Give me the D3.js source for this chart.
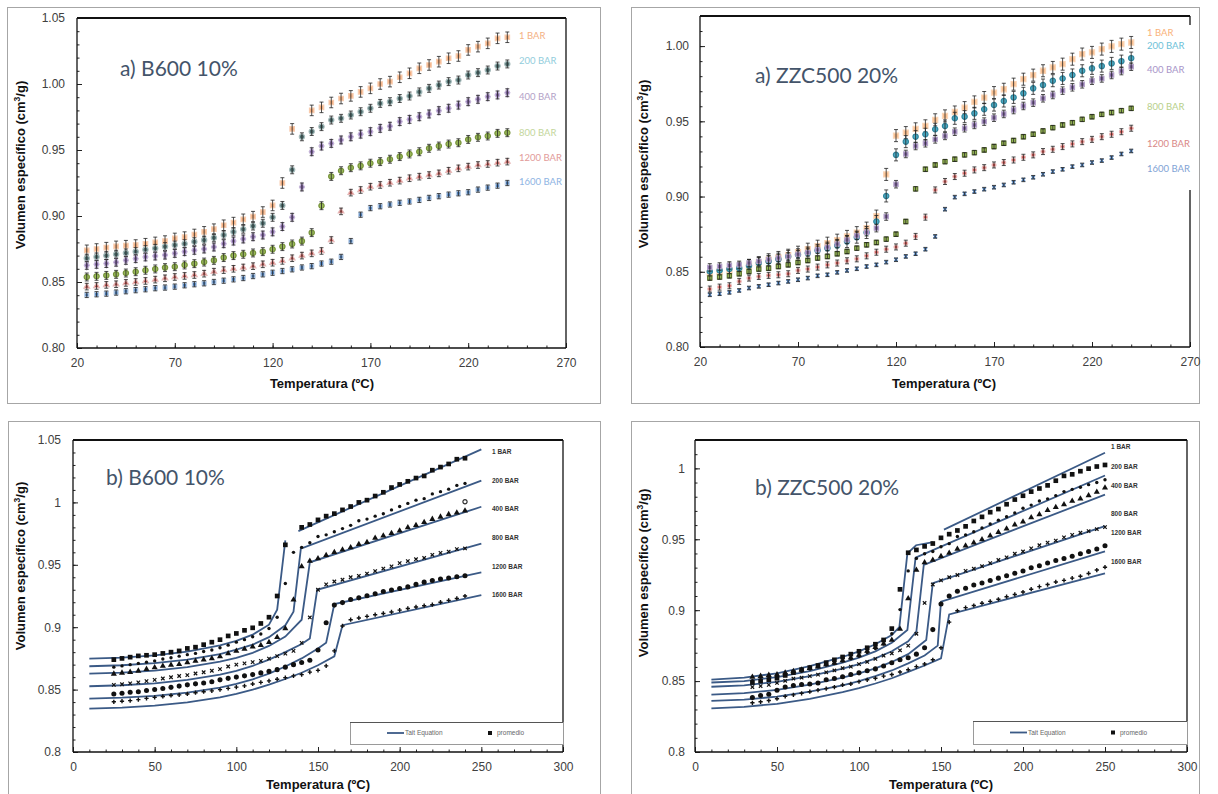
<!DOCTYPE html>
<html>
<head>
<meta charset="utf-8">
<script src="https://cdnjs.cloudflare.com/ajax/libs/d3/7.8.5/d3.min.js"></script>
<style>
body { margin: 0; background: #fff; }
svg { display: block; }
</style>
</head>
<body>
<div id="chart"></div>
<script>
// ---- data ----
var pressures = ["1 BAR", "200 BAR", "400 BAR", "800 BAR", "1200 BAR", "1600 BAR"];

// temperatures of the measured points (ºC)
var tempA = [25,30,35,40,45,50,55,60,65,70,75,80,85,90,95,100,105,110,115,120,125,130,135,140,145,150,155,160,165,170,175,180,185,190,195,200,205,210,215,220,225,230,235,240];
var tempB2 = [35,40,45,50,55,60,65,70,75,80,85,90,95,100,105,110,115,120,125,130,135,140,145,150,155,160,165,170,175,180,185,190,195,200,205,210,215,220,225,230,235,240,245,250];

// B600 10%
var b600_1bar = [.874,.875,.876,.877,.8775,.878,.879,.880,.881,.883,.884,.886,.888,.890,.893,.895,.8975,.8995,.903,.908,.925,.966,null,.980,.9823,.986,.989,.991,.994,.9967,1.000,1.0018,1.0051,1.0081,1.0119,1.0144,1.0169,1.0195,1.0212,1.0258,1.0283,1.0308,1.0346,1.0354];
var b600_200bar = [.868,.869,.870,.871,.872,.873,.8745,.8755,.8768,.878,.879,.8805,.8817,.8835,.8856,.888,.890,.8924,.8945,.899,.908,.935,.960,.964,.9677,.9727,.974,.9765,.979,.9816,.9853,.9866,.989,.9909,.994,.9967,.9992,1.0018,1.003,1.0068,1.0086,1.0106,1.0136,1.0152];
var b600_400bar = [.8626,.8634,.864,.865,.8664,.8677,.869,.8697,.8704,.8717,.873,.874,.875,.8765,.879,.881,.8826,.8843,.8856,.888,.892,.899,.922,.9487,.953,.955,.9576,.960,.962,.9639,.9664,.968,.9715,.9732,.9752,.9773,.9798,.9816,.984,.9866,.9884,.9904,.9917,.9934];
var b600_800bar = [.8538,.8543,.855,.8558,.8568,.8578,.8589,.8599,.8609,.8616,.8629,.8639,.8651,.8664,.8685,.870,.871,.872,.873,.8748,.8768,.8788,.881,.8874,.9078,.930,.9343,.9366,.938,.940,.9412,.943,.945,.947,.9487,.9513,.953,.9545,.9555,.958,.9596,.9606,.9626,.9631];
var b600_1200bar = [.8465,.847,.8478,.8483,.8493,.850,.8508,.8518,.8528,.8538,.8546,.8553,.8563,.8578,.859,.860,.861,.862,.8634,.8646,.866,.868,.870,.8717,.8735,.8818,.9035,.9177,.9197,.9222,.9235,.9252,.9268,.9286,.9298,.931,.9323,.9343,.9361,.9374,.9386,.9394,.9404,.9412];
var b600_1600bar = [.8402,.8407,.8412,.842,.843,.8438,.8445,.8453,.8458,.8465,.8475,.8483,.849,.850,.851,.852,.853,.8545,.8558,.857,.8583,.8596,.861,.862,.864,.8654,.869,.881,.901,.906,.9074,.9087,.910,.911,.9122,.9137,.915,.9162,.9172,.918,.920,.9215,.923,.925];
var b600_outlier = [[240, 1.0005]];

// ZZC500 20%
var zzc_1bar = [.849,.850,.851,.852,.854,.856,.858,.8595,.861,.863,.865,.867,.869,.871,.8735,.876,.879,.887,.9147,.9405,.9425,.945,.947,.951,.9536,.9562,.9591,.9629,.9658,.9691,.9713,.9747,.978,.9807,.9836,.9858,.988,.9913,.9947,.9958,.998,.9998,1.0013,1.0024];
var zzc_200bar = [.8502,.8509,.8518,.8524,.854,.8558,.8569,.8584,.8602,.8613,.8624,.8642,.8657,.8675,.8701,.873,.8761,.8834,.9004,.9277,.9365,.9398,.9414,.9447,.9469,.952,.9531,.9553,.958,.9608,.9635,.9659,.9686,.9719,.9741,.977,.9785,.9808,.9836,.9852,.9867,.9885,.990,.992];
var zzc_400bar = [.8529,.8535,.8542,.8546,.8558,.8569,.858,.8591,.8602,.8617,.8628,.8646,.8664,.8684,.8712,.8739,.8763,.879,.8867,.9082,.9283,.9336,.9354,.938,.9403,.9431,.9454,.9476,.9498,.9524,.9549,.9575,.9602,.9624,.9653,.9675,.9704,.9726,.9746,.977,.9785,.9808,.9834,.9863];
var zzc_800bar = [.8458,.8465,.8473,.8487,.8502,.8518,.8524,.8535,.8546,.8562,.8575,.8591,.8602,.862,.8635,.8657,.8679,.8695,.8717,.875,.8834,.9051,.9181,.921,.9232,.9248,.9277,.9292,.931,.9332,.9354,.9372,.9398,.9414,.9436,.9458,.9476,.9491,.9513,.9531,.9546,.9558,.9571,.9586];
var zzc_1200bar = [.8385,.8398,.8407,.8436,.8458,.8469,.8476,.848,.8487,.8509,.8518,.8531,.8546,.8558,.8573,.8586,.8606,.863,.865,.8665,.869,.8735,.8863,.9044,.910,.9133,.9155,.9177,.9192,.921,.9226,.9243,.9261,.9277,.9299,.9314,.9332,.935,.9365,.938,.9398,.9414,.9431,.9454];
var zzc_1600bar = [.8347,.8354,.8363,.8376,.8392,.8403,.8414,.8425,.8436,.8447,.8458,.8473,.848,.8496,.8509,.852,.8535,.8546,.8564,.858,.8602,.862,.865,.8735,.8916,.8996,.9018,.9033,.9049,.9062,.9077,.9095,.9111,.9128,.9148,.9166,.9181,.9199,.921,.9226,.9239,.9259,.9283,.9303];

// error bar half-heights, per pressure
var errB600 = [0.004, 0.003, 0.003, 0.003, 0.0025, 0.002];
var errZZC = [0.004, 0.004, 0.0025, 0.0015, 0.002, 0.0012];

// Tait equation curves [T, v]; null = break in the line
var taitB600_1 = [[10,.8749],[30,.8757],[50,.8775],[70,.8805],[90,.8855],[100,.889],[110,.894],[120,.902],[125,.914],[130,.9695],null,[138,.977],[250,1.0425]];
var taitB600_200 = [[10,.8687],[30,.8695],[50,.8712],[70,.874],[90,.8785],[100,.882],[110,.886],[120,.892],[130,.9015],[135,.9124],[139.5,.963],[250,1.0174]];
var taitB600_400 = [[10,.8628],[30,.8636],[50,.8652],[70,.868],[90,.8725],[100,.8755],[110,.8795],[120,.885],[130,.8925],[140,.906],[145,.952],[250,.9965]];
var taitB600_800 = [[10,.8527],[30,.8535],[50,.855],[70,.8578],[90,.862],[100,.865],[110,.869],[120,.874],[130,.880],[140,.8865],[145,.891],[149.5,.930],[250,.967]];
var taitB600_1200 = [[10,.8428],[30,.8436],[50,.845],[70,.8476],[90,.8515],[100,.8545],[110,.8582],[120,.8628],[130,.8685],[140,.875],[150,.883],[155,.8875],[160,.9185],[250,.9439]];
var taitB600_1600 = [[10,.8348],[30,.8356],[50,.8372],[70,.8398],[90,.8438],[100,.8465],[110,.850],[120,.854],[130,.8585],[140,.8635],[150,.8695],[160,.8767],[165,.9016],[250,.9257]];

var taitZZC_1 = [[10,.851],[30,.8525],[50,.8555],[70,.8605],[90,.867],[100,.871],[110,.876],[120,.8825],[124.6,.888],[129.5,.940],[134.8,.9458],[145.3,.948],null,[151.8,.9568],[250,1.011]];
var taitZZC_200 = [[10,.849],[30,.850],[50,.8528],[70,.857],[90,.863],[100,.8665],[110,.871],[120,.877],[129.5,.886],[134.5,.937],[250,.995]];
var taitZZC_400 = [[10,.846],[30,.847],[50,.8495],[70,.8535],[90,.8588],[100,.862],[110,.866],[120,.871],[130,.878],[135,.885],[139.5,.932],[250,.9815]];
var taitZZC_800 = [[10,.8405],[30,.8415],[50,.8438],[70,.8475],[90,.8525],[100,.8555],[110,.859],[120,.8635],[130,.869],[141,.879],[145,.919],[250,.9592]];
var taitZZC_1200 = [[10,.836],[30,.837],[50,.839],[70,.8425],[90,.847],[100,.850],[110,.8535],[120,.8575],[130,.8625],[140,.868],[148,.875],[150,.906],[250,.9415]];
var taitZZC_1600 = [[10,.8308],[30,.8318],[50,.834],[70,.8375],[90,.8422],[100,.845],[110,.8483],[120,.852],[130,.8565],[140,.861],[150,.866],[155,.897],[250,.926]];

var ticksA_x = [20, 70, 120, 170, 220, 270];
var ticksB_x = [0, 50, 100, 150, 200, 250, 300];
var ticksB600_y = [0.80, 0.85, 0.90, 0.95, 1.00, 1.05];
var ticksZZC_y = [0.80, 0.85, 0.90, 0.95, 1.00];

var b600 = [b600_1bar, b600_200bar, b600_400bar, b600_800bar, b600_1200bar, b600_1600bar];
var zzc = [zzc_1bar, zzc_200bar, zzc_400bar, zzc_800bar, zzc_1200bar, zzc_1600bar];
var taitB600 = [taitB600_1, taitB600_200, taitB600_400, taitB600_800, taitB600_1200, taitB600_1600];
var taitZZC = [taitZZC_1, taitZZC_200, taitZZC_400, taitZZC_800, taitZZC_1200, taitZZC_1600];

// ---- drawing ----
var W = 1218, H = 794;
var svg = d3.select("#chart").append("svg").attr("width", W).attr("height", H);
svg.append("rect").attr("width", W).attr("height", H).attr("fill", "#fff");

var ARIAL = "'Liberation Sans', Arial, sans-serif";
var CALIBRI = "Lato, 'Open Sans', sans-serif";

function symPath(type, size) {
	if (type == "x") {
		var a = Math.sqrt(size) / 2;
		return "M" + (-a) + "," + (-a) + "L" + a + "," + a + "M" + (-a) + "," + a + "L" + a + "," + (-a);
	}
	var types = {square: d3.symbolSquare, circle: d3.symbolCircle, diamond: d3.symbolDiamond,
		triangle: d3.symbolTriangle, plus: d3.symbolCross};
	return d3.symbol().type(types[type]).size(size)();
}

function drawPanel(p) {
	var g = svg.append("g");
	g.append("rect")
		.attr("x", p.box[0] + 0.5).attr("y", p.box[1] + 0.5)
		.attr("width", p.box[2] - p.box[0]).attr("height", p.box[3] - p.box[1])
		.attr("fill", "none").attr("stroke", "#a6a6a6");

	var x = d3.scaleLinear().domain(p.xd).range([p.left, p.right]);
	var y = d3.scaleLinear().domain(p.yd).range([p.bottom, p.top]);

	var yMinor = d3.range(Math.round((p.yd[1] - p.yd[0]) / 0.01) + 1).map(function(i) { return p.yd[0] + i * 0.01; });
	var xMinor = d3.range(p.xd[0], p.xd[1] + 1, 10);

	function styleAxis(a) {
		a.select(".domain").remove();
		a.selectAll("line").attr("stroke", "#222");
		a.selectAll("text").attr("font-family", ARIAL).attr("font-size", 12).attr("fill", "#404040");
	}
	g.append("g").attr("transform", "translate(" + p.left + ",0)")
		.call(d3.axisLeft(y).tickValues(yMinor).tickSize(-2.5).tickFormat("")).call(styleAxis);
	g.append("g").attr("transform", "translate(" + p.left + ",0)")
		.call(d3.axisLeft(y).tickValues(p.yt).tickSize(-5).tickPadding(p.ypad).tickFormat(d3.format(p.yfmt))).call(styleAxis);
	g.append("g").attr("transform", "translate(0," + p.bottom + ")")
		.call(d3.axisBottom(x).tickValues(xMinor).tickSize(-2.5).tickFormat("")).call(styleAxis);
	g.append("g").attr("transform", "translate(0," + p.bottom + ")")
		.call(d3.axisBottom(x).tickValues(p.xt).tickSize(-5).tickPadding(10)).call(styleAxis);

	// frame
	var fr = g.append("g").attr("stroke", "#111").attr("fill", "none");
	fr.append("line").attr("x1", p.left).attr("x2", p.left).attr("y1", p.top).attr("y2", p.bottom).attr("stroke-width", 1.3);
	fr.append("line").attr("x1", p.left).attr("x2", p.right).attr("y1", p.bottom).attr("y2", p.bottom).attr("stroke-width", 1.3);
	fr.append("line").attr("x1", p.left).attr("x2", p.right).attr("y1", p.top).attr("y2", p.top).attr("stroke-width", 2);
	if (p.rightGap) {
		fr.append("line").attr("x1", p.right).attr("x2", p.right).attr("y1", p.top).attr("y2", p.rightGap[0]).attr("stroke-width", 1.3);
		fr.append("line").attr("x1", p.right).attr("x2", p.right).attr("y1", p.rightGap[1]).attr("y2", p.bottom).attr("stroke-width", 1.3);
	} else {
		fr.append("line").attr("x1", p.right).attr("x2", p.right).attr("y1", p.top).attr("y2", p.bottom).attr("stroke-width", 1.3);
	}

	// axis titles
	var yl = g.append("text")
		.attr("transform", "translate(" + p.ylab[0] + "," + p.ylab[1] + ") rotate(-90)")
		.attr("text-anchor", "middle").attr("font-family", ARIAL).attr("font-weight", "bold")
		.attr("font-size", 13).attr("fill", "#111");
	yl.append("tspan").text("Volumen específico (cm");
	yl.append("tspan").attr("font-size", 8.5).attr("dy", -5).text("3");
	yl.append("tspan").attr("dy", 5).text("/g)");
	g.append("text").attr("x", p.xlab[0]).attr("y", p.xlab[1])
		.attr("text-anchor", "middle").attr("font-family", ARIAL).attr("font-weight", "bold")
		.attr("font-size", 13).attr("fill", "#111").text("Temperatura (ºC)");

	g.append("text").attr("x", p.title[0]).attr("y", p.title[1])
		.attr("font-family", CALIBRI).attr("font-size", 21).attr("fill", "#44546A").text(p.titleText);

	return {g: g, x: x, y: y};
}

function drawMeasured(p, ax, temps, sets, errs, styles, labelColors) {
	sets.forEach(function(vals, k) {
		var st = styles[k];
		var pts = temps.map(function(t, i) { return {t: t, v: vals[i]}; }).filter(function(d) { return d.v != null; });
		var s = ax.g.append("g");
		s.selectAll("path.m").data(pts).enter().append("path")
			.attr("class", "m")
			.attr("transform", function(d) { return "translate(" + ax.x(d.t) + "," + ax.y(d.v) + ")"; })
			.attr("d", symPath(st.sym, st.size))
			.attr("fill", st.sym == "x" ? "none" : st.fill)
			.attr("stroke", st.stroke).attr("stroke-width", st.sym == "x" ? 1.4 : 1.2);
		var eb = s.append("g").attr("stroke", "#222").attr("stroke-width", 0.8);
		pts.forEach(function(d) {
			var cx = ax.x(d.t), y1 = ax.y(d.v - errs[k]), y2 = ax.y(d.v + errs[k]);
			eb.append("line").attr("x1", cx).attr("x2", cx).attr("y1", y1).attr("y2", y2);
			eb.append("line").attr("x1", cx - 2).attr("x2", cx + 2).attr("y1", y1).attr("y2", y1);
			eb.append("line").attr("x1", cx - 2).attr("x2", cx + 2).attr("y1", y2).attr("y2", y2);
		});
		ax.g.append("text").attr("x", p.lab[0]).attr("y", p.lab[1][k]).attr("dy", "0.35em")
			.attr("font-family", CALIBRI).attr("font-size", 9.5).attr("fill", labelColors[k]).text(pressures[k]);
	});
}

var blackMarks = [
	{sym: "square", size: 22}, {sym: "circle", size: 9}, {sym: "triangle", size: 16},
	{sym: "x", size: 12}, {sym: "circle", size: 20}, {sym: "plus", size: 10}
];

function drawTait(p, ax, temps, sets, curves) {
	var line = d3.line().defined(function(d) { return d != null; })
		.x(function(d) { return ax.x(d[0]); }).y(function(d) { return ax.y(d[1]); });
	curves.forEach(function(c) {
		ax.g.append("path").attr("d", line(c)).attr("fill", "none")
			.attr("stroke", "#3b5a86").attr("stroke-width", 1.8);
	});
	sets.forEach(function(vals, k) {
		var st = blackMarks[k];
		var pts = temps.map(function(t, i) { return {t: t, v: vals[i]}; }).filter(function(d) { return d.v != null; });
		ax.g.append("g").selectAll("path").data(pts).enter().append("path")
			.attr("transform", function(d) { return "translate(" + ax.x(d.t) + "," + ax.y(d.v) + ")"; })
			.attr("d", symPath(st.sym, st.size))
			.attr("fill", st.sym == "x" ? "none" : "#111")
			.attr("stroke", st.sym == "x" ? "#111" : "none").attr("stroke-width", 1.2);
		ax.g.append("text").attr("x", p.lab[0]).attr("y", p.lab[1][k]).attr("dy", "0.35em")
			.attr("font-family", ARIAL).attr("font-weight", "bold").attr("font-size", 6.5)
			.attr("fill", "#333").text(pressures[k]);
	});
	// legend
	var L = p.legend;
	var lg = ax.g.append("g");
	lg.append("rect").attr("x", L[0] + 0.5).attr("y", L[1] + 0.5).attr("width", L[2] - L[0]).attr("height", L[3] - L[1])
		.attr("fill", "#fff").attr("stroke", "#9a9a9a");
	lg.append("line").attr("x1", L[0]).attr("x2", L[2]).attr("y1", L[1] + 0.5).attr("y2", L[1] + 0.5).attr("stroke", "#555");
	var my = (L[1] + L[3]) / 2;
	lg.append("line").attr("x1", L[0] + 37).attr("x2", L[0] + 54).attr("y1", my).attr("y2", my)
		.attr("stroke", "#3b5a86").attr("stroke-width", 1.8);
	lg.append("text").attr("x", L[0] + 55).attr("y", my).attr("dy", "0.35em").attr("font-family", ARIAL)
		.attr("font-size", 6.5).attr("fill", "#666").text("Tait Equation");
	lg.append("path").attr("transform", "translate(" + (L[0] + 140) + "," + my + ")")
		.attr("d", symPath("square", 16)).attr("fill", "#111");
	lg.append("text").attr("x", L[0] + 147).attr("y", my).attr("dy", "0.35em").attr("font-family", ARIAL)
		.attr("font-size", 6.5).attr("fill", "#666").text("promedio");
}

var pA1 = {box: [7, 7, 600, 403], left: 77, right: 566, top: 18, bottom: 348,
	xd: [20, 270], yd: [0.80, 1.05], xt: ticksA_x, yt: ticksB600_y, yfmt: ".2f", ypad: 12,
	ylab: [25, 165], xlab: [322, 388], title: [120, 76], titleText: "a) B600 10%",
	lab: [519, [36, 61, 97, 133, 158, 182]]};
var pA2 = {box: [631, 7, 1199, 403], left: 700, right: 1190, top: 16, bottom: 347,
	xd: [20, 270], yd: [0.80, 1.02], xt: ticksA_x, yt: ticksZZC_y, yfmt: ".2f", ypad: 11,
	ylab: [648, 164], xlab: [944, 388], title: [755, 83], titleText: "a) ZZC500 20%",
	lab: [1147, [33, 46, 70, 107, 144, 169]], rightGap: [25, 190]};
var pB1 = {box: [8, 421, 600, 800], left: 73, right: 563, top: 440, bottom: 752,
	xd: [0, 300], yd: [0.80, 1.05], xt: ticksB_x, yt: ticksB600_y, yfmt: "~g", ypad: 12,
	ylab: [25, 566], xlab: [318, 789], title: [106, 485], titleText: "b) B600 10%",
	lab: [492, [452, 481, 509, 538, 567, 595]], legend: [350, 722, 563, 744]};
var pB2 = {box: [631, 421, 1199, 800], left: 695, right: 1187, top: 440, bottom: 752,
	xd: [0, 300], yd: [0.80, 1.02], xt: ticksB_x, yt: ticksZZC_y, yfmt: "~g", ypad: 10,
	ylab: [648, 573], xlab: [941, 789], title: [755, 495], titleText: "b) ZZC500 20%",
	lab: [1111, [447, 467, 486, 514, 533, 562]], legend: [973, 721, 1187, 744]};

var stylesA1 = [
	{sym: "square", size: 20, fill: "#F4B183", stroke: "#F8CBAD"},
	{sym: "circle", size: 22, fill: "#4E6E6E", stroke: "#A9BDBD"},
	{sym: "diamond", size: 22, fill: "#8064A2", stroke: "#C4B5D7"},
	{sym: "circle", size: 22, fill: "#9BBB59", stroke: "#77933C"},
	{sym: "triangle", size: 14, fill: "#C0504D", stroke: "#E6B9B8"},
	{sym: "square", size: 16, fill: "#4F81BD", stroke: "#B9CDE5"}
];
var stylesA2 = [
	{sym: "square", size: 26, fill: "#FAC090", stroke: "#FCD5B5"},
	{sym: "circle", size: 22, fill: "#4BACC6", stroke: "#31859C"},
	{sym: "square", size: 18, fill: "#8064A2", stroke: "#B3A2C7"},
	{sym: "square", size: 18, fill: "#9BBB59", stroke: "#5F7530"},
	{sym: "circle", size: 12, fill: "#D9534F", stroke: "#E6B9B8"},
	{sym: "x", size: 12, fill: "none", stroke: "#4F81BD"}
];
var labelColorsA1 = ["#F4B183", "#92CDDC", "#B3A2C7", "#C3D69B", "#E29B99", "#8EB4E3"];
var labelColorsA2 = ["#F9B27A", "#6DC1D8", "#A895C9", "#B7D08A", "#D98886", "#7FA3D5"];

var axA1 = drawPanel(pA1);
drawMeasured(pA1, axA1, tempA, b600, errB600, stylesA1, labelColorsA1);
var axA2 = drawPanel(pA2);
drawMeasured(pA2, axA2, tempA, zzc, errZZC, stylesA2, labelColorsA2);
var axB1 = drawPanel(pB1);
drawTait(pB1, axB1, tempA, b600, taitB600);
axB1.g.append("path")
	.attr("transform", "translate(" + axB1.x(b600_outlier[0][0]) + "," + axB1.y(b600_outlier[0][1]) + ")")
	.attr("d", symPath("circle", 14)).attr("fill", "none").attr("stroke", "#333").attr("stroke-width", 1.2);
var axB2 = drawPanel(pB2);
drawTait(pB2, axB2, tempB2, zzc, taitZZC);
</script>
</body>
</html>
